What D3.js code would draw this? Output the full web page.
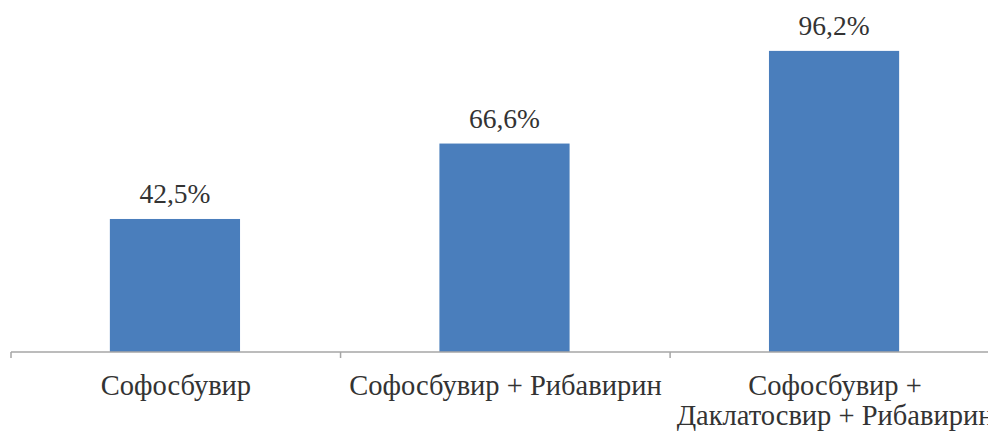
<!DOCTYPE html>
<html>
<head>
<meta charset="utf-8">
<script src="https://cdn.jsdelivr.net/npm/d3@7"></script>
</head>
<body style="margin:0">
<script>
// categories and values
const categories = ['Софосбувир', 'Софосбувир + Рибавирин', 'Софосбувир +\nДаклатосвир + Рибавирин'];
const values = [42.5, 66.6, 96.2];
const valueLabels = ['42,5%', '66,6%', '96,2%'];

const width = 988, height = 432;

const svg = d3.select('body')
              .append('svg')
              .attr('width', width)
              .attr('height', height);

// x band goes a bit past the right edge, like in the original
const xScale = d3.scaleBand()
                 .domain(categories)
                 .range([11, 998])
                 .paddingInner(0.605)
                 .paddingOuter(0.3);

const yScale = d3.scaleLinear()
                 .domain([0, 100])
                 .range([352, 39]);

// bars
svg.selectAll('rect')
   .data(values)
   .enter()
   .append('rect')
   .attr('x', (d, i) => xScale(categories[i]))
   .attr('y', d => yScale(d))
   .attr('width', xScale.bandwidth())
   .attr('height', d => yScale(0) - yScale(d))
   .attr('fill', '#4a7ebc');

// axis line with ticks between categories
const step = xScale.step();
const tickX = d3.range(categories.length + 1).map(i => 11 + i * step);
svg.append('line')
   .attr('x1', 11).attr('x2', width)
   .attr('y1', yScale(0)).attr('y2', yScale(0))
   .attr('stroke', '#a6a6a6')
   .attr('stroke-width', 1.5);
svg.selectAll('line.tick')
   .data(tickX)
   .enter()
   .append('line')
   .attr('class', 'tick')
   .attr('x1', d => d).attr('x2', d => d)
   .attr('y1', yScale(0)).attr('y2', yScale(0) + 6)
   .attr('stroke', '#a6a6a6')
   .attr('stroke-width', 1.5);

// value labels
svg.selectAll('text.val')
   .data(values)
   .enter()
   .append('text')
   .attr('class', 'val')
   .attr('x', (d, i) => xScale(categories[i]) + xScale.bandwidth() / 2)
   .attr('y', d => yScale(d) - 16)
   .attr('text-anchor', 'middle')
   .style('font-family', "'Liberation Serif'")
   .style('font-size', '27.5px')
   .attr('fill', '#333')
   .text((d, i) => valueLabels[i]);

// category labels, one text per line
const catLines = [];
categories.forEach((c, ci) => {
    c.split('\n').forEach((l, li) => catLines.push({ cat: c, line: l, row: li }));
});

svg.selectAll('text.cat')
   .data(catLines)
   .enter()
   .append('text')
   .attr('class', 'cat')
   .attr('x', d => xScale(d.cat) + xScale.bandwidth() / 2 + 1)
   .attr('y', d => 395 + d.row * 30)
   .attr('text-anchor', 'middle')
   .style('font-family', "'Liberation Serif'")
   .style('font-size', '28.5px')
   .attr('fill', '#333')
   .text(d => d.line);
</script>
</body>
</html>
